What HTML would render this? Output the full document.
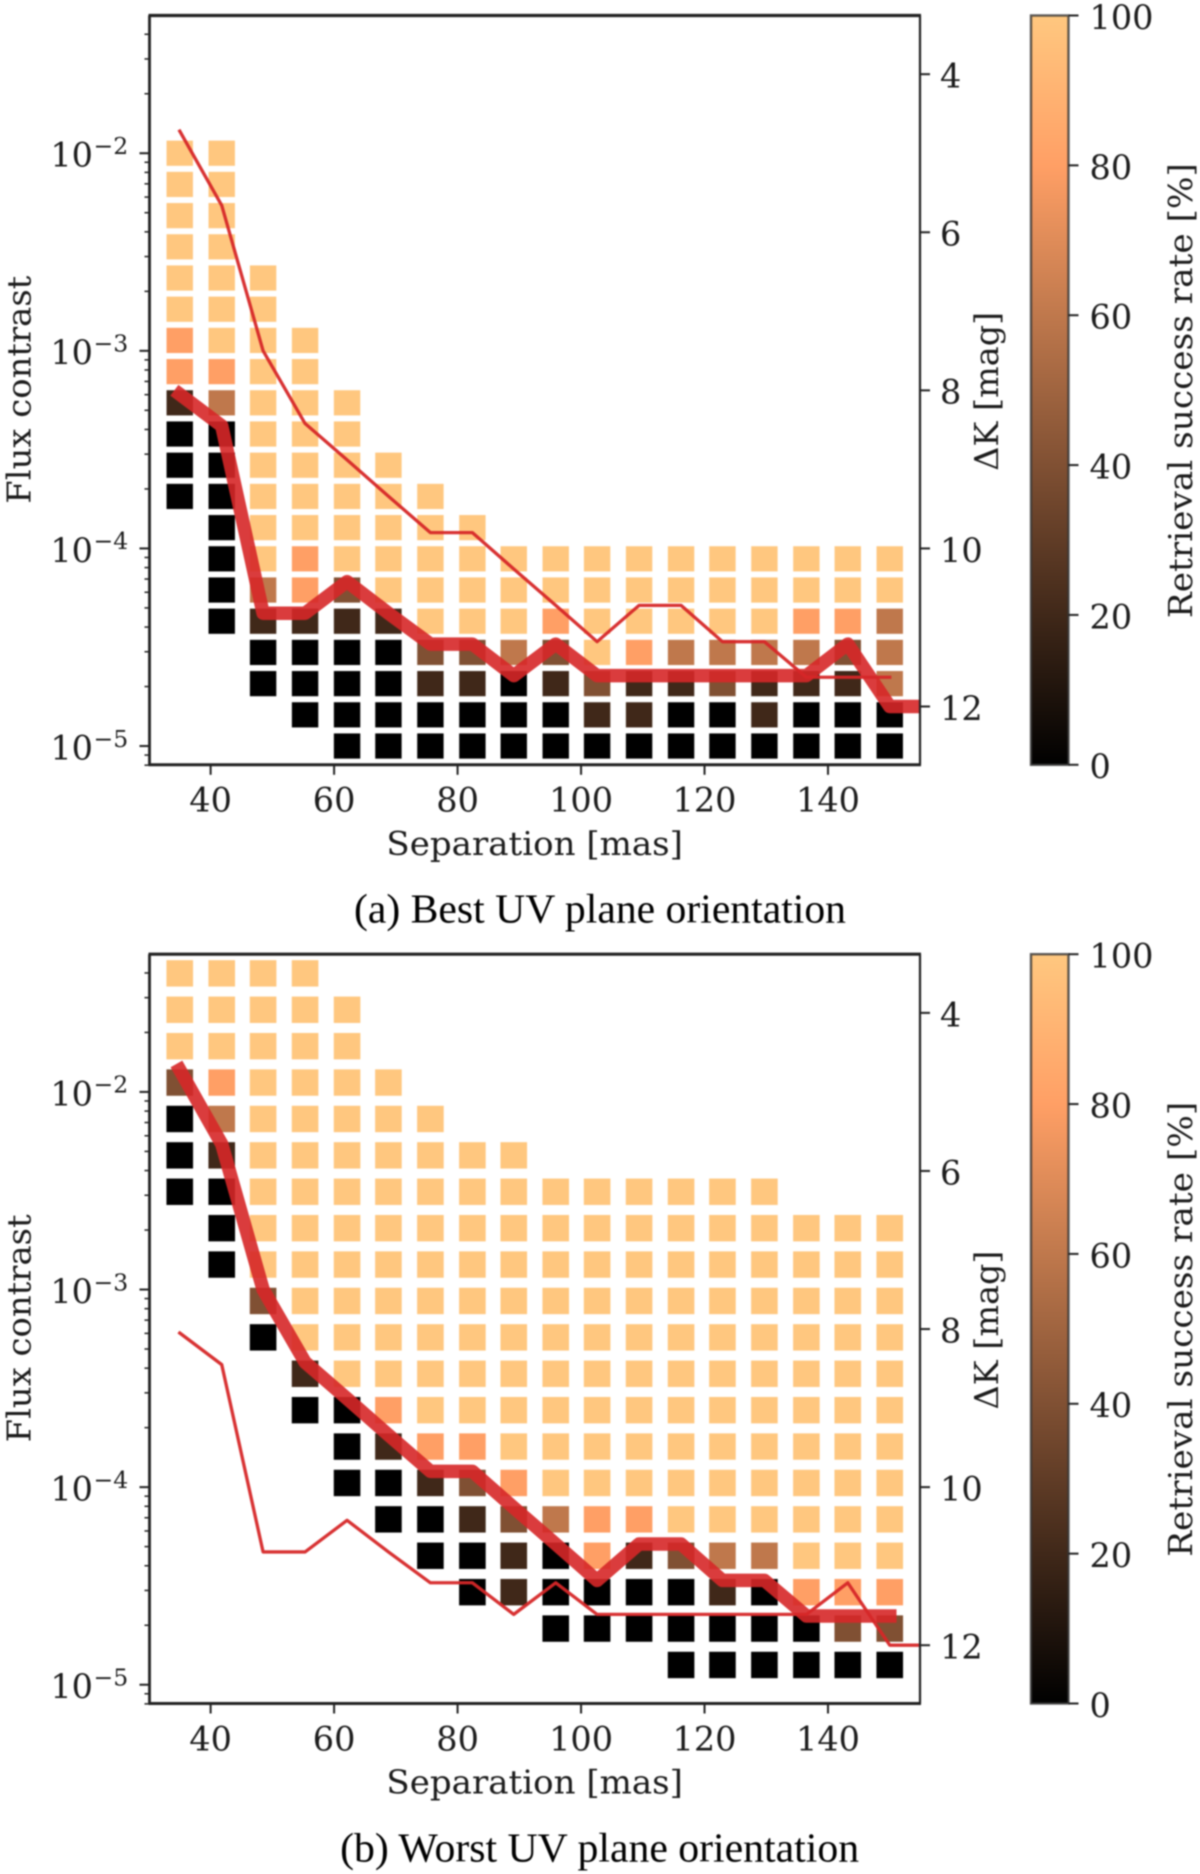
<!DOCTYPE html>
<html lang="en">
<head>
<meta charset="utf-8">
<title>Retrieval success rate maps</title>
<style>
  html, body { margin: 0; padding: 0; background: #fff; }
  #figure { display: block; width: 1200px; height: 1874px; filter: blur(0.75px); }
  text { fill: #1c1c1c; font-family: "DejaVu Serif", "Liberation Serif", serif; }
  .caption { font-family: "Liberation Serif", "DejaVu Serif", serif; fill: #000; }
</style>
</head>
<body>
<svg id="figure" xmlns="http://www.w3.org/2000/svg" width="1200" height="1874" viewBox="0 0 1200 1874">
  <rect x="0" y="0" width="1200" height="1874" fill="#ffffff"/>
  <text class="caption" x="600" y="922.7" font-size="41.5" text-anchor="middle" textLength="492" lengthAdjust="spacingAndGlyphs">(a) Best UV plane orientation</text>
  <text class="caption" x="599.6" y="1861.5" font-size="41.5" text-anchor="middle" textLength="519" lengthAdjust="spacingAndGlyphs">(b) Worst UV plane orientation</text>
</svg>
<script>
// ---- Data ----
const separations = [35, 41.8, 48.5, 55.3, 62.1, 68.8, 75.6, 82.4, 89.1, 95.9, 102.6, 109.4, 116.2, 122.9, 129.7, 136.5, 143.2, 150];
const curveSeparations = [35, 41.8, 48.5, 55.3, 62.1, 68.8, 75.6, 82.4, 89.1, 95.9, 102.6, 109.4, 116.2, 122.9, 129.7, 136.5, 143.2, 150, 156.8];

// Detection limit curves, in delta-K magnitudes
const bestCurveMag = [8.05, 8.45, 10.82, 10.82, 10.42, 10.82, 11.21, 11.21, 11.61, 11.21, 11.61, 11.61, 11.61, 11.61, 11.61, 11.61, 11.21, 12.0, 12.0];
const worstCurveMag = [4.72, 5.66, 7.50, 8.42, 8.88, 9.34, 9.80, 9.80, 10.26, 10.72, 11.18, 10.72, 10.72, 11.18, 11.18, 11.63, 11.63, 11.63];

// Contrast rows (log10 flux contrast), bottom to top
const bestRowFirstLog = -5;
const bestRowLastLog = -2;
const worstRowFirstLog = -4.9;
const worstRowLastLog = -1.4;
const _ = null;

// Success rate [%] per separation column, listed from the bottom row upward
const bestSuccess = [
  [_,_,_,_,_,_,_,_,0,0,0,20,80,80,100,100,100,100,100,100],
  [_,_,_,_,0,0,0,0,0,0,0,60,80,100,100,100,100,100,100,100],
  [_,_,0,0,20,60,100,100,100,100,100,100,100,100,100,100],
  [_,0,0,0,20,80,80,100,100,100,100,100,100,100],
  [0,0,0,0,20,40,100,100,100,100,100,100],
  [0,0,0,0,20,100,100,100,100,100],
  [0,0,20,40,100,100,100,100,100],
  [0,0,20,40,100,100,100,100],
  [0,0,0,60,100,100,100],
  [0,0,20,40,80,100,100],
  [0,20,40,100,100,100,100],
  [0,20,20,80,100,100,100],
  [0,0,20,60,100,100,100],
  [0,0,40,60,100,100,100],
  [0,20,20,60,100,100,100],
  [0,0,20,60,80,100,100],
  [0,0,20,40,80,100,100],
  [0,0,60,60,60,100,100]
];
const worstSuccess = [
  [_,_,_,_,_,_,_,_,_,_,_,_,_,0,0,0,40,100,100,100],
  [_,_,_,_,_,_,_,_,_,_,_,0,0,0,20,60,80,100,100,100],
  [_,_,_,_,_,_,_,_,_,0,40,100,100,100,100,100,100,100,100,100],
  [_,_,_,_,_,_,_,0,20,100,100,100,100,100,100,100,100,100,100,100],
  [_,_,_,_,_,0,0,0,100,100,100,100,100,100,100,100,100,100,100],
  [_,_,_,_,0,0,20,80,100,100,100,100,100,100,100,100,100],
  [_,_,_,0,0,20,80,100,100,100,100,100,100,100,100,100],
  [_,_,0,0,20,40,80,100,100,100,100,100,100,100,100],
  [_,_,20,20,40,80,100,100,100,100,100,100,100,100,100],
  [_,0,0,0,60,100,100,100,100,100,100,100,100,100],
  [_,0,0,80,80,100,100,100,100,100,100,100,100,100],
  [_,0,0,20,80,100,100,100,100,100,100,100,100,100],
  [0,0,0,40,100,100,100,100,100,100,100,100,100,100],
  [0,0,20,60,100,100,100,100,100,100,100,100,100,100],
  [0,0,0,60,100,100,100,100,100,100,100,100,100,100],
  [0,0,80,100,100,100,100,100,100,100,100,100,100],
  [0,40,80,100,100,100,100,100,100,100,100,100,100],
  [0,40,80,100,100,100,100,100,100,100,100,100,100]
];

// Ticks
const xTicks = [40, 60, 80, 100, 120, 140];
const yTickExponents = [-2, -3, -4, -5];
const yMinorDecades = [-6, -5, -4, -3, -2];
const yMinorFactors = [2, 3, 4, 5, 6, 7, 8, 9];
const deltaKTicks = [4, 6, 8, 10, 12];
const colorbarTicks = [0, 20, 40, 60, 80, 100];

// ---- Scales and helpers ----
const SVG_NS = 'http://www.w3.org/2000/svg';
const svg = document.getElementById('figure');
const plotLeft = 149.5, plotRight = 920, xMin = 30.1, xMax = 154.9;
const plotHeight = 749.3, logTop = -1.303, pxPerDecade = 197.6;
const barLeft = 1031, barRight = 1068.5;
const tickFont = 33.5, titleFont = 33;

function xScale(sep) { return plotLeft + (sep - xMin) * (plotRight - plotLeft) / (xMax - xMin); }
function yScale(top, logFlux) { return top + (logTop - logFlux) * pxPerDecade; }
function magToLog(mag) { return mag / -2.5; }
function barScale(top, pct) { return top + plotHeight * (1 - pct / 100); }
function copper(pct) {
  const c = pct / 100;
  const r = Math.round(255 * Math.min(1, 1.25 * c));
  const g = Math.round(255 * 0.7812 * c);
  const b = Math.round(255 * 0.4975 * c);
  return 'rgb(' + r + ',' + g + ',' + b + ')';
}
function make(tag, attrs, parent, content) {
  const node = document.createElementNS(SVG_NS, tag);
  for (const key in attrs) node.setAttribute(key, attrs[key]);
  if (content !== undefined) node.textContent = content;
  parent.appendChild(node);
  return node;
}

const defs = make('defs', {}, svg);

function drawPanel(id, top, success, rowFirst, rowLast, cellW, cellH, thinMag, thickMag) {
  const bottom = top + plotHeight;
  const panel = make('g', {}, svg);
  
  

  const clip = make('clipPath', { id: id + '-clip' }, defs);
  make('rect', { x: plotLeft, y: top, width: plotRight - plotLeft, height: plotHeight }, clip);

  // heatmap cells
  const cells = make('g', {}, panel);
  
  
  const rowCount = 20;
  success.forEach(function (column, ci) {
    column.forEach(function (value, ri) {
      if (value === null) return;
      const logFlux = rowFirst + (rowLast - rowFirst) * ri / (rowCount - 1);
      const cell = make('rect', {
        x: xScale(separations[ci]) - cellW / 2,
        y: yScale(top, logFlux) - cellH / 2,
        width: cellW,
        height: cellH,
        fill: copper(value)
      }, cells);
      
      
    });
  });

  // curves
  function curvePath(mags) {
    return mags.map(function (m, i) {
      return (i ? 'L' : 'M') + xScale(curveSeparations[i]).toFixed(2) + ' ' + yScale(top, magToLog(m)).toFixed(2);
    }).join(' ');
  }
  const thin = make('path', {
    d: curvePath(thinMag), fill: 'none', stroke: '#d62728', 'stroke-opacity': 0.95,
    'stroke-width': 3.3, 'stroke-linejoin': 'round', 'stroke-linecap': 'square',
    'clip-path': 'url(#' + id + '-clip)'
  }, panel);
  
  
  const thick = make('path', {
    d: curvePath(thickMag), fill: 'none', stroke: '#d62728', 'stroke-opacity': 0.9,
    'stroke-width': 13.5, 'stroke-linejoin': 'round', 'stroke-linecap': 'square',
    'clip-path': 'url(#' + id + '-clip)'
  }, panel);
  
  

  // spines
  const spineColor = '#222';
  const spineTop = make('line', { x1: plotLeft - 1, x2: plotRight + 1, y1: top, y2: top, stroke: spineColor, 'stroke-width': 3.2 }, panel);
  
  
  const spineBottom = make('line', { x1: plotLeft - 1, x2: plotRight + 1, y1: bottom, y2: bottom, stroke: spineColor, 'stroke-width': 3 }, panel);
  
  
  const spineLeft = make('line', { x1: plotLeft, x2: plotLeft, y1: top, y2: bottom, stroke: spineColor, 'stroke-width': 2.8 }, panel);
  
  
  const spineRight = make('line', { x1: plotRight, x2: plotRight, y1: top, y2: bottom, stroke: spineColor, 'stroke-width': 2.2 }, panel);
  
  

  // x axis
  xTicks.forEach(function (t) {
    const x = xScale(t);
    const tick = make('line', { x1: x, x2: x, y1: bottom, y2: bottom + 10, stroke: spineColor, 'stroke-width': 2 }, panel);
    
    
    const label = make('text', { x: x, y: bottom + 46.8, 'font-size': tickFont, 'text-anchor': 'middle' }, panel, String(t));
    
    
  });
  const xTitle = make('text', {
    x: 534.7, y: bottom + 90, 'font-size': titleFont, 'text-anchor': 'middle',
    textLength: 296.5, lengthAdjust: 'spacingAndGlyphs'
  }, panel, 'Separation [mas]');
  
  

  // left y axis
  yTickExponents.forEach(function (e) {
    const y = yScale(top, e);
    const tick = make('line', { x1: plotLeft - 10, x2: plotLeft, y1: y, y2: y, stroke: spineColor, 'stroke-width': 2 }, panel);
    
    
    const base = make('text', { x: 93, y: y + 13.4, 'font-size': tickFont, 'text-anchor': 'end' }, panel, '10');
    
    
    const sup = make('text', { x: 93.5, y: y + 0.8, 'font-size': 23.5 }, panel, '\u2212' + Math.abs(e));
    
    
  });
  yMinorDecades.forEach(function (d) {
    yMinorFactors.forEach(function (f) {
      const lg = d + Math.log10(f);
      const y = yScale(top, lg);
      if (y < top || y > bottom + 0.5) return;
      const minor = make('line', { x1: plotLeft - 5, x2: plotLeft, y1: y, y2: y, stroke: spineColor, 'stroke-width': 1.5 }, panel);
      
      
    });
  });
  const yTitle = make('text', {
    transform: 'translate(30.5 ' + (top + 374.2) + ') rotate(-90)', 'font-size': titleFont, 'text-anchor': 'middle',
    textLength: 228, lengthAdjust: 'spacingAndGlyphs'
  }, panel, 'Flux contrast');
  
  

  // right delta-K axis
  deltaKTicks.forEach(function (m) {
    const y = yScale(top, magToLog(m));
    const tick = make('line', { x1: plotRight, x2: plotRight + 10, y1: y, y2: y, stroke: spineColor, 'stroke-width': 2 }, panel);
    
    
    const label = make('text', { x: 940, y: y + 13.4, 'font-size': tickFont }, panel, String(m));
    
    
  });
  const kTitle = make('text', {
    transform: 'translate(998 ' + (top + 375.8) + ') rotate(-90)', 'font-size': titleFont, 'text-anchor': 'middle',
    textLength: 159, lengthAdjust: 'spacingAndGlyphs'
  }, panel, '\u0394K [mag]');
  
  

  // colorbar
  const gradient = make('linearGradient', { id: id + '-gradient', x1: 0, y1: 1, x2: 0, y2: 0 }, defs);
  colorbarTicks.forEach(function (p) {
    make('stop', { offset: p / 100, 'stop-color': copper(p) }, gradient);
  });
  const bar = make('rect', {
    x: barLeft, y: top, width: barRight - barLeft, height: plotHeight,
    fill: 'url(#' + id + '-gradient)', stroke: '#333', 'stroke-opacity': 0.8, 'stroke-width': 2.4
  }, panel);
  
  
  colorbarTicks.forEach(function (p) {
    const y = barScale(top, p);
    const tick = make('line', { x1: barRight, x2: barRight + 10, y1: y, y2: y, stroke: spineColor, 'stroke-width': 2 }, panel);
    
    
    const label = make('text', { x: 1089.5, y: y + 13.4, 'font-size': tickFont }, panel, String(p));
    
    
  });
  const barTitle = make('text', {
    transform: 'translate(1192 ' + (top + 375.1) + ') rotate(-90)', 'font-size': titleFont, 'text-anchor': 'middle',
    textLength: 455, lengthAdjust: 'spacingAndGlyphs'
  }, panel, 'Retrieval success rate [%]');
  
  
}

drawPanel('best-orientation', 15.5, bestSuccess, bestRowFirstLog, bestRowLastLog, 26.4, 25.2, worstCurveMag, bestCurveMag);
drawPanel('worst-orientation', 954.2, worstSuccess, worstRowFirstLog, worstRowLastLog, 26.6, 26.4, bestCurveMag, worstCurveMag);
</script>
</body>
</html>
